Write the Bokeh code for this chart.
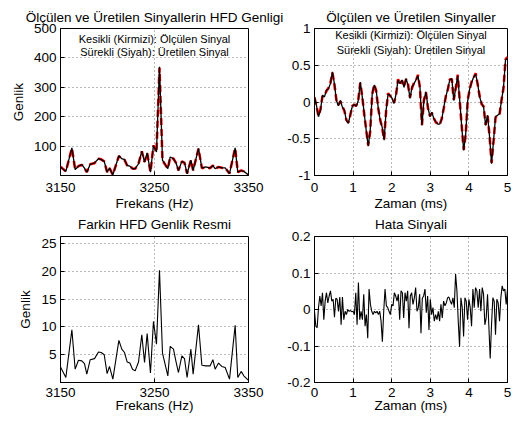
import numpy as np
from bokeh.plotting import figure
from bokeh.layouts import column, row
from bokeh.models import FixedTicker, Label, Range1d
from bokeh.embed import file_html
from bokeh.resources import INLINE

# ---------------- data ----------------
# frequency axis (Hz) of the spectrum plots
frekans = [3150.0, 3155.7, 3162.1, 3165.6, 3169.1, 3172.7, 3175.5, 3178.0, 3181.6, 3186.2,
           3190.4, 3193.3, 3196.5, 3199.6, 3202.1, 3205.7, 3212.1, 3215.2, 3218.1, 3220.9,
           3223.8, 3226.6, 3229.4, 3233.0, 3236.5, 3239.4, 3242.2, 3245.7, 3248.9, 3252.1,
           3255.3, 3258.5, 3264.2, 3266.7, 3270.2, 3272.7, 3275.5, 3279.1, 3281.9, 3284.7,
           3288.7, 3291.1, 3296.8, 3300.4, 3304.6, 3309.2, 3312.1, 3314.5, 3318.1, 3321.6,
           3325.2, 3329.8, 3335.8, 3338.6, 3342.2, 3345.0, 3350.0]

# spectrum magnitude of generated signal (black, solid)
hfd_uretilen = [29, 14, 94, 20, 32, 37, 25, 11, 38, 43, 57, 54, 48, 11, 25, 2, 67, 57, 54, 34,
                32, 23, 23, 40, 83, 46, 77, 11, 103, 80, 370, 52, 23, 63, 57, 44, 17, 48, 44, 6,
                52, 17, 92, 25, 29, 25, 34, 23, 29, 26, 26, 6, 94, 11, 17, 14, 2]
# spectrum magnitude of measured signal (red, dashed)
hfd_olculen = [30, 14, 93, 21, 32, 36, 25, 12, 38, 42, 57, 55, 48, 12, 25, 3, 66, 57, 53, 34,
               32, 24, 23, 40, 82, 46, 76, 12, 102, 80, 366, 51, 23, 62, 57, 44, 18, 48, 43, 7,
               52, 18, 91, 25, 29, 25, 34, 23, 29, 26, 26, 7, 93, 12, 17, 14, 3]
# spectrum magnitude of the difference
hfd_fark = [2.8, 0.9, 9.5, 2.4, 4.0, 3.9, 3.4, 1.5, 4.1, 4.3, 5.5, 5.4, 5.0, 1.6, 2.9, 0.6,
            7.6, 6.0, 5.4, 3.7, 3.5, 2.4, 2.1, 3.7, 8.6, 3.6, 8.8, 1.7, 11.0, 6.9, 20.2, 5.3,
            1.2, 6.5, 6.0, 3.9, 1.8, 4.8, 4.3, 0.9, 6.0, 1.5, 10.4, 3.1, 3.0, 3.0, 4.1, 2.4,
            3.5, 2.9, 2.7, 0.6, 10.3, 0.9, 2.0, 1.2, 0.4]

# time-domain signals (0 .. 5 ms)
sinyal_uretilen = [0.07, -0.05, -0.20, -0.11, 0.09, 0.07, 0.16, 0.18, 0.25, 0.41,
                   0.25, 0.02, -0.05, 0.02, -0.07, -0.11, -0.25, -0.29, -0.17, -0.06,
                   -0.03, -0.06, 0.02, 0.27, 0.07, -0.16, -0.39, -0.60, -0.39, 0.11,
                   0.23, 0.16, -0.07, -0.25, -0.34, -0.52, -0.11, 0.11, 0.09, 0.05,
                   -0.02, 0.11, 0.30, 0.25, 0.30, 0.20, 0.32, 0.23, 0.05, 0.20,
                   0.25, 0.30, 0.36, 0.20, -0.32, 0.02, 0.14, -0.07, -0.20, -0.14,
                   -0.23, -0.27, -0.30, -0.30, -0.23, -0.07, 0.07, 0.18, 0.30, 0.32,
                   0.02, 0.20, 0.36, 0.02, -0.34, -0.66, -0.43, 0.02, 0.18, 0.27,
                   0.34, 0.38, 0.25, 0.07, -0.02, -0.07, -0.32, -0.18, -0.48, -0.84,
                   -0.52, -0.20, -0.18, -0.16, 0.02, 0.20, 0.57, 0.60]
sinyal_olculen = [0.06, -0.06, -0.19, -0.10, 0.08, 0.08, 0.15, 0.19, 0.26, 0.40,
                  0.24, 0.03, -0.04, 0.01, -0.06, -0.12, -0.24, -0.28, -0.18, -0.05,
                  -0.04, -0.05, 0.03, 0.26, 0.08, -0.17, -0.38, -0.59, -0.40, 0.10,
                  0.24, 0.15, -0.08, -0.24, -0.35, -0.51, -0.12, 0.12, 0.08, 0.06,
                  -0.01, 0.10, 0.31, 0.24, 0.29, 0.21, 0.31, 0.24, 0.06, 0.19,
                  0.26, 0.29, 0.37, 0.19, -0.31, 0.03, 0.13, -0.08, -0.19, -0.15,
                  -0.22, -0.28, -0.29, -0.31, -0.22, -0.08, 0.08, 0.17, 0.31, 0.31,
                  0.03, 0.19, 0.37, 0.01, -0.33, -0.65, -0.44, 0.03, 0.17, 0.28,
                  0.33, 0.39, 0.24, 0.08, -0.03, -0.06, -0.31, -0.19, -0.47, -0.83,
                  -0.53, -0.21, -0.17, -0.17, 0.03, 0.19, 0.58, 0.61]
hata = [-0.005, -0.046, -0.05, 0.005, 0.037, 0.01, 0.046, -0.028, 0.023, 0.046,
        0.018, 0.037, 0.051, 0.023, 0.028, -0.021, 0.031, 0.028, -0.005, 0.034,
        -0.042, 0.034, -0.028, -0.005, -0.014, 0.0, -0.005, -0.003, -0.006, -0.005,
        -0.014, 0.046, -0.042, 0.074, -0.028, -0.005, -0.028, 0.042, -0.046, -0.014,
        -0.079, 0.056, 0.014, -0.005, -0.014, -0.005, -0.009, -0.005, -0.014, -0.005,
        -0.032, -0.088, -0.005, 0.056, 0.01, 0.005, -0.005, -0.014, 0.014, 0.01,
        0.046, 0.037, 0.023, 0.042, -0.028, 0.051, 0.046, -0.023, 0.046, 0.023,
        0.051, -0.051, 0.037, 0.046, 0.014, 0.032, 0.06, -0.005, 0.005, 0.042,
        -0.065, 0.031, 0.037, 0.056, -0.009, 0.037, -0.056, 0.028, -0.014, 0.005,
        -0.032, -0.014, -0.028, -0.005, -0.032, 0.014, -0.023, 0.023, 0.01, 0.018,
        0.032, 0.034, 0.023, 0.014, 0.032, 0.005, 0.097, 0.051, -0.032, -0.102,
        0.032, 0.005, -0.074, 0.032, 0.023, -0.028, 0.028, 0.005, -0.046, 0.056,
        0.005, 0.06, 0.051, 0.005, 0.056, -0.005, 0.06, 0.042, -0.042, -0.023,
        0.042, -0.046, -0.134, -0.042, 0.032, 0.023, -0.069, 0.028, 0.018, -0.032,
        0.032, 0.065, 0.051, 0.056, 0.014, 0.056]

zaman_sinyal = np.linspace(0, 5, len(sinyal_uretilen))
zaman_hata = np.linspace(0, 5, len(hata))

frek_ticks = [3150, 3250, 3350]
zaman_ticks = [0, 1, 2, 3, 4, 5]
hfd_yticks = [100, 200, 300, 400, 500]
sinyal_yticks = [-1, -0.5, 0, 0.5, 1]
fark_yticks = [5, 10, 15, 20, 25]
hata_yticks = [-0.2, -0.1, 0, 0.1, 0.2]

basliklar = ["Ölçülen ve Üretilen Sinyallerin HFD Genligi", "Ölçülen ve Üretilen Sinyaller",
             "Farkin HFD Genlik Resmi", "Hata Sinyali"]
aciklama = ["Kesikli (Kirmizi): Ölçülen Sinyal", "Sürekli (Siyah): Üretilen Sinyal"]

FONT = "Liberation Sans"


def lbl(v):
    return "%g" % v


def make(title, w, h, xr, yr, xticks, yticks, xlabel, ylabel, borders, lab_standoff,
         title_offset=0, title_standoff=3, x_std=(7, 1)):
    bl, br, bt, bb = borders
    p = figure(width=w, height=h, x_range=Range1d(*xr), y_range=Range1d(*yr),
               output_backend="svg", toolbar_location=None,
               min_border_left=bl, min_border_right=br, min_border_top=bt, min_border_bottom=bb)
    p.title.text = title
    p.title.align = "center"
    p.title.vertical_align = "top"
    p.title.offset = title_offset
    p.title.standoff = title_standoff
    p.title.text_font = FONT
    p.title.text_font_size = "13.5px"
    p.title.text_font_style = "normal"
    p.title.text_color = "black"
    p.outline_line_color = "black"
    p.outline_line_width = 1
    p.outline_line_alpha = 1
    p.background_fill_color = "white"
    p.border_fill_color = "white"
    for ax, ticks in ((p.xaxis[0], xticks), (p.yaxis[0], yticks)):
        ax.ticker = FixedTicker(ticks=ticks)
        ax.major_label_overrides = {t: lbl(t) for t in ticks}
        ax.major_tick_in = 4
        ax.major_tick_out = 0
        ax.minor_tick_line_color = None
        ax.axis_line_color = "black"
        ax.major_tick_line_color = "black"
        ax.major_label_text_font = FONT
        ax.major_label_text_font_size = "13.5px"
        ax.major_label_text_color = "black"
        ax.axis_label_text_font = FONT
        ax.axis_label_text_font_size = "13.5px"
        ax.axis_label_text_font_style = "normal"
        ax.axis_label_text_color = "black"
    p.xaxis.major_label_standoff = x_std[0]
    p.xaxis.axis_label_standoff = x_std[1]
    p.yaxis.major_label_standoff = lab_standoff
    p.yaxis.axis_label_standoff = 5
    if xlabel:
        p.xaxis.axis_label = xlabel
    if ylabel:
        p.yaxis.axis_label = ylabel
    p.xgrid.ticker = FixedTicker(ticks=xticks)
    p.ygrid.ticker = FixedTicker(ticks=yticks)
    p.grid.grid_line_color = "black"
    p.grid.grid_line_alpha = 0.55
    p.grid.grid_line_dash = "1 3"
    p.grid.grid_line_width = 1
    return p


def legend_text(p, x, y1, y2):
    for y, t in ((y1, aciklama[0]), (y2, aciklama[1])):
        p.add_layout(Label(x=x, y=y, text=t, text_align="center", text_baseline="middle",
                           text_font=FONT, text_font_size="11px", text_color="black"))


# top-left: spectra
p1 = make(basliklar[0], 284, 213, (3150, 3350), (0, 500),
          frek_ticks, hfd_yticks, "Frekans (Hz)", "Genlik", (60, 36, 28, 37), 4,
          title_offset=-12, title_standoff=3)
p1.line(frekans, hfd_olculen, line_color="red", line_width=2.6, line_dash="7 4")
p1.line(frekans, hfd_uretilen, line_color="black", line_width=1.3)
legend_text(p1, 3250, 463, 421)

# top-right: time signals
p2 = make(basliklar[1], 234, 213, (0, 5), (-1, 1),
          zaman_ticks, sinyal_yticks, "Zaman (ms)", None, (30, 11, 28, 37), 4,
          title_standoff=3)
p2.line(zaman_sinyal, sinyal_olculen, line_color="red", line_width=2.6, line_dash="7 4")
p2.line(zaman_sinyal, sinyal_uretilen, line_color="black", line_width=1.3)
legend_text(p2, 2.5, 0.905, 0.703)

# bottom-left: difference spectrum
p3 = make(basliklar[2], 284, 208, (3150, 3350), (0, 26.3),
          frek_ticks, fark_yticks, "Frekans (Hz)", "Genlik", (60, 36, 23, 39), 4,
          title_standoff=5, x_std=(5, -2))
p3.line(frekans, hfd_fark, line_color="black", line_width=1.1)

# bottom-right: error signal
p4 = make(basliklar[3], 234, 208, (0, 5), (-0.2, 0.2),
          zaman_ticks, hata_yticks, "Zaman (ms)", None, (30, 11, 23, 39), 4,
          title_standoff=5, x_std=(5, -2))
p4.line(zaman_hata, hata, line_color="black", line_width=1.1)

layout = column(row(p1, p2), row(p3, p4))
open("out.html", "w").write(file_html(layout, INLINE))
